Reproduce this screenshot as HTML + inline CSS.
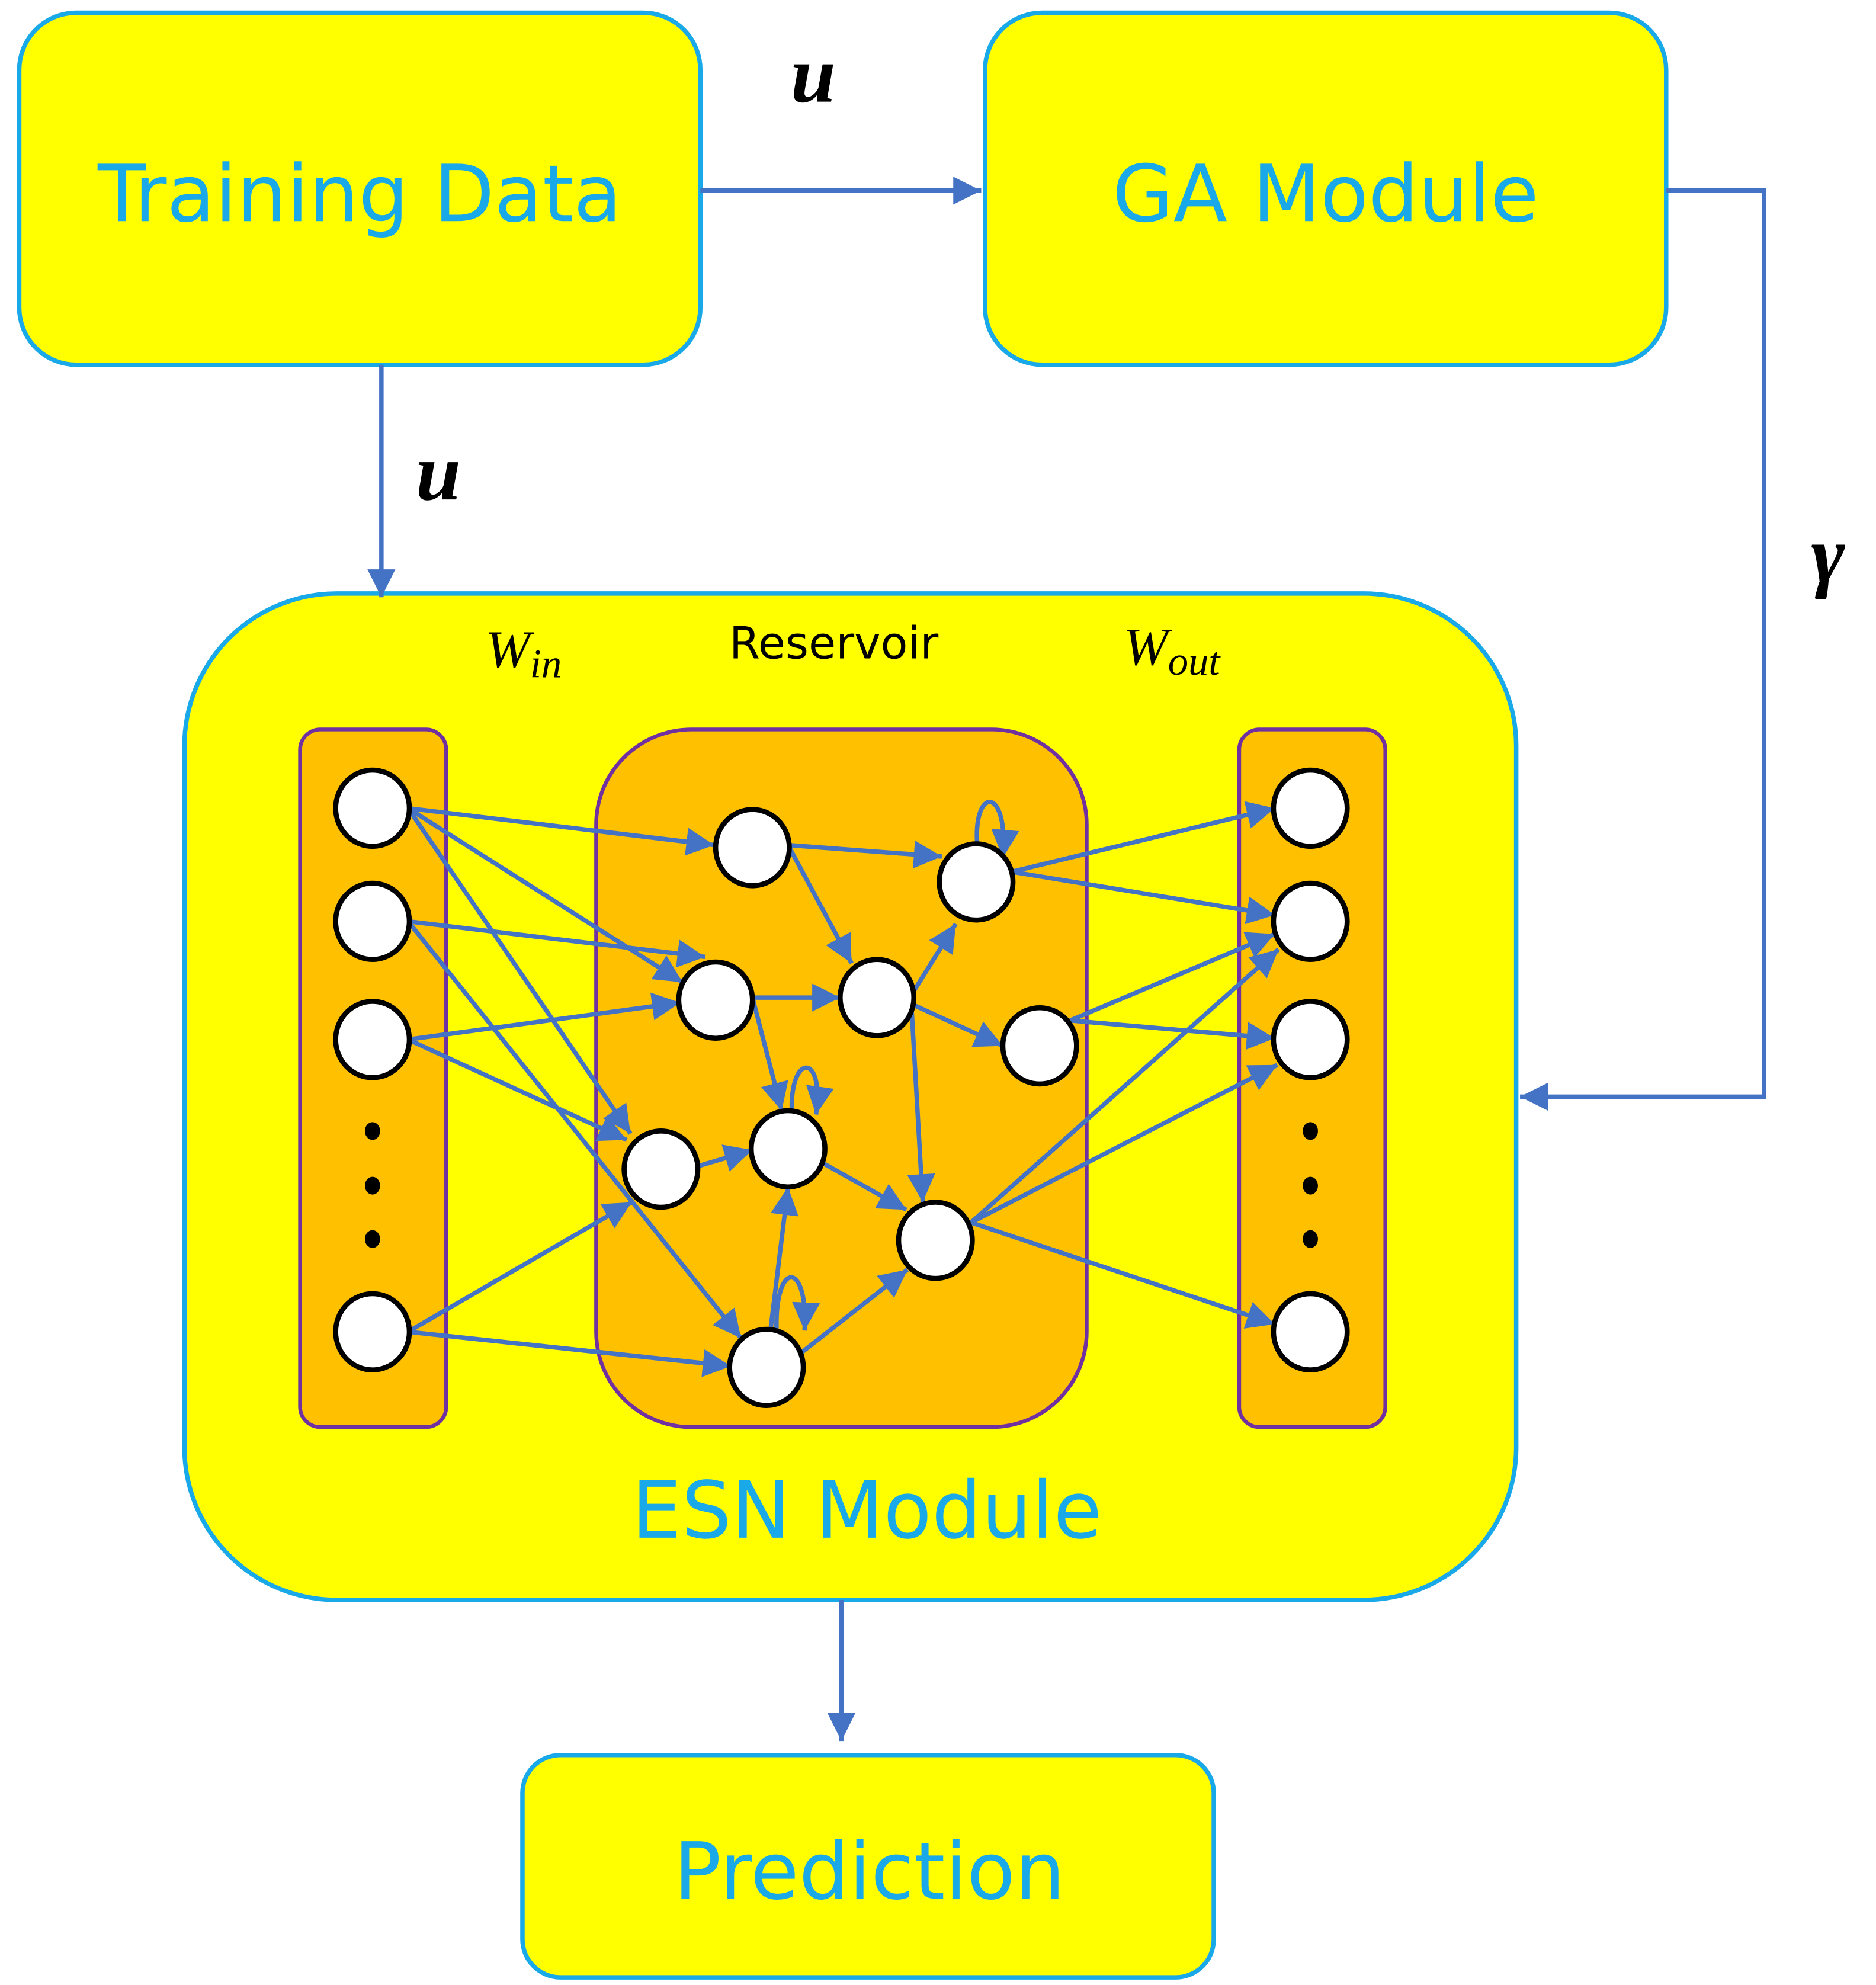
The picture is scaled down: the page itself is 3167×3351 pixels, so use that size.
<!DOCTYPE html>
<html><head><style>html,body{margin:0;padding:0;background:#fff}svg{display:block}</style></head><body>
<svg width="3167" height="3351" viewBox="0 0 1476 1562" xmlns="http://www.w3.org/2000/svg">
<defs>
<marker id="b" viewBox="0 0 10 10" refX="10" refY="5" markerWidth="26" markerHeight="22" orient="auto" markerUnits="userSpaceOnUse"><path d="M0,0 L10,5 L0,10 z" fill="#4472C4"/></marker>
</defs>
<rect width="1476" height="1562" fill="#fff"/>
<g fill="#FFFF00" stroke="#1AA9E8" stroke-width="3.5">
<rect x="15" y="10" width="536" height="277" rx="45"/>
<rect x="775" y="10" width="536" height="277" rx="45"/>
<rect x="145" y="467" width="1048" height="792" rx="120"/>
<rect x="411" y="1381" width="544" height="175" rx="30"/>
</g>
<g font-family="'DejaVu Sans','Liberation Sans',sans-serif" fill="#1AA9E8" font-size="62" text-anchor="middle">
<text x="283" y="174">Training Data</text>
<text x="1043" y="174">GA Module</text>
<text x="682" y="1210">ESN Module</text>
<text x="684" y="1494">Prediction</text>
</g>
<g stroke="#4472C4" stroke-width="3.5" fill="none">
<line x1="551" y1="150" x2="772" y2="150" marker-end="url(#b)"/>
<polyline points="1311,150 1388,150 1388,863 1196,863" marker-end="url(#b)"/>
<line x1="300" y1="287" x2="300" y2="470" marker-end="url(#b)"/>
<line x1="662" y1="1259" x2="662" y2="1370" marker-end="url(#b)"/>
</g>
<g font-family="'Liberation Serif',serif" font-style="italic" font-weight="bold" font-size="64" fill="#000">
<text x="622" y="80">u</text>
<text x="327" y="393">u</text>
<text x="1425" y="458">γ</text>
</g>
<g font-family="'Liberation Serif',serif" font-style="italic" font-size="42" fill="#000">
<text x="382" y="525">W<tspan font-size="32" dy="8">in</tspan></text>
<text x="884" y="523">W<tspan font-size="32" dy="8">out</tspan></text>
</g>
<text x="656" y="518" font-family="'DejaVu Sans','Liberation Sans',sans-serif" font-size="35" text-anchor="middle">Reservoir</text>
<g fill="#FFC000" stroke="#7030A0" stroke-width="3">
<rect x="236" y="574" width="115" height="549" rx="16"/>
<rect x="469" y="574" width="386" height="549" rx="75"/>
<rect x="975" y="574" width="115" height="549" rx="16"/>
</g>
<g stroke="#4472C4" stroke-width="3.5" fill="none" marker-end="url(#b)">
<line x1="321" y1="636" x2="562" y2="665"/>
<line x1="321" y1="636" x2="537" y2="773"/>
<line x1="321" y1="636" x2="496" y2="892"/>
<line x1="321" y1="725" x2="555" y2="753"/>
<line x1="321" y1="725" x2="583" y2="1053"/>
<line x1="321" y1="818" x2="535" y2="789"/>
<line x1="321" y1="818" x2="493" y2="897"/>
<line x1="321" y1="1048" x2="497" y2="946"/>
<line x1="321" y1="1048" x2="575" y2="1075"/>
<line x1="620" y1="665" x2="741" y2="674"/>
<line x1="620" y1="665" x2="670" y2="758"/>
<line x1="592" y1="785" x2="661" y2="785"/>
<line x1="592" y1="785" x2="615" y2="874"/>
<line x1="717" y1="783" x2="752" y2="727"/>
<line x1="717" y1="790" x2="789" y2="823"/>
<line x1="717" y1="790" x2="726" y2="946"/>
<line x1="548" y1="918" x2="592" y2="905"/>
<line x1="647" y1="915" x2="713" y2="952"/>
<line x1="606" y1="1048" x2="620" y2="934"/>
<line x1="631" y1="1064" x2="714" y2="999"/>
<line x1="796" y1="686" x2="1003" y2="636"/>
<line x1="796" y1="686" x2="1003" y2="720"/>
<line x1="842" y1="803" x2="1003" y2="735"/>
<line x1="842" y1="803" x2="1003" y2="817"/>
<line x1="764" y1="962" x2="1006" y2="747"/>
<line x1="764" y1="962" x2="1005" y2="838"/>
<line x1="764" y1="962" x2="1003" y2="1042"/>
<path d="M769,666 C765,618 794,618 789,675"/>
<path d="M623,876 C621,828 649,828 642,877"/>
<path d="M611,1048 C609,991 636,991 633,1047"/>
</g>
<g fill="#fff" stroke="#000" stroke-width="4">
<ellipse cx="293" cy="636" rx="29" ry="30"/>
<ellipse cx="293" cy="725" rx="29" ry="30"/>
<ellipse cx="293" cy="818" rx="29" ry="30"/>
<ellipse cx="293" cy="1048" rx="29" ry="30"/>
<ellipse cx="1031" cy="636" rx="29" ry="30"/>
<ellipse cx="1031" cy="725" rx="29" ry="30"/>
<ellipse cx="1031" cy="818" rx="29" ry="30"/>
<ellipse cx="1031" cy="1048" rx="29" ry="30"/>
<ellipse cx="592" cy="667" rx="29" ry="30"/>
<ellipse cx="768" cy="694" rx="29" ry="30"/>
<ellipse cx="563" cy="787" rx="29" ry="30"/>
<ellipse cx="690" cy="785" rx="29" ry="30"/>
<ellipse cx="818" cy="823" rx="29" ry="30"/>
<ellipse cx="520" cy="920" rx="29" ry="30"/>
<ellipse cx="620" cy="904" rx="29" ry="30"/>
<ellipse cx="736" cy="976" rx="29" ry="30"/>
<ellipse cx="603" cy="1076" rx="29" ry="30"/>
</g>
<g fill="#000">
<ellipse cx="293" cy="890" rx="6" ry="7"/><ellipse cx="293" cy="933" rx="6" ry="7"/><ellipse cx="293" cy="975" rx="6" ry="7"/>
<ellipse cx="1031" cy="890" rx="6" ry="7"/><ellipse cx="1031" cy="933" rx="6" ry="7"/><ellipse cx="1031" cy="975" rx="6" ry="7"/>
</g>
</svg>
</body></html>
